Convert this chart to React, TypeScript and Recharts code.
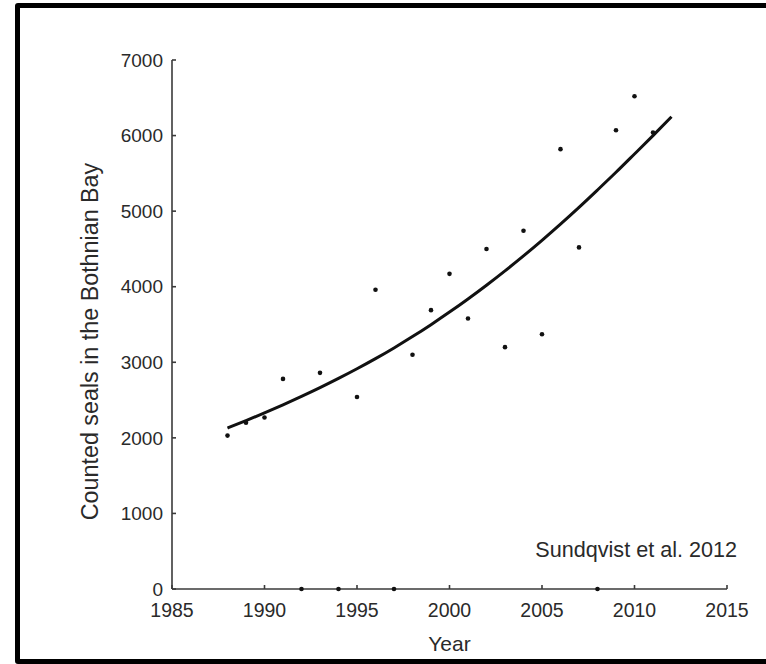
import { ComposedChart, Line, Scatter, XAxis, YAxis, Label } from 'recharts';

const countYears = [
  1988, 1989, 1990, 1991, 1992, 1993, 1994, 1995, 1996, 1997, 1998, 1999,
  2000, 2001, 2002, 2003, 2004, 2005, 2006, 2007, 2008, 2009, 2010, 2011,
];
const counts = [
  2030, 2200, 2270, 2780, 0, 2860, 0, 2540, 3960, 0, 3100, 3690,
  4170, 3580, 4500, 3200, 4740, 3370, 5820, 4520, 0, 6070, 6520, 6040,
];

const fitYears = [
  1988, 1989, 1990, 1991, 1992, 1993, 1994, 1995, 1996, 1997, 1998, 1999, 2000,
  2001, 2002, 2003, 2004, 2005, 2006, 2007, 2008, 2009, 2010, 2011, 2012,
];
const fitValues = [
  2130, 2228, 2330, 2437, 2548, 2664, 2786, 2914, 3048, 3190, 3340, 3498, 3664,
  3838, 4020, 4210, 4408, 4614, 4828, 5050, 5280, 5514, 5756, 6000, 6250,
];

const xTicks = [1985, 1990, 1995, 2000, 2005, 2010, 2015];
const yTicks = [0, 1000, 2000, 3000, 4000, 5000, 6000, 7000];

const points = countYears.map((year, i) => ({ year, count: counts[i] }));
const fit = fitYears.map((year, i) => ({ year, fit: fitValues[i] }));

const font = '"Liberation Sans", Arial, sans-serif';
const axisColor = '#3a3a3a';
const textColor = '#2a2a2a';

const Dot = (props: any) => <circle cx={props.cx} cy={props.cy} r={2.3} fill="#111" />;

export default function App() {
  return (
    <div style={{ position: 'fixed', left: 0, top: 0, width: 766, height: 664, background: '#fff', fontFamily: font }}>
      <div
        style={{
          position: 'fixed',
          left: 15,
          top: 3,
          width: 800,
          height: 661,
          border: '5px solid #000',
          borderRadius: 3,
          boxSizing: 'border-box',
        }}
      />
      <ComposedChart
        width={766}
        height={664}
        data={fit}
        margin={{ top: 60, right: 39, bottom: 35, left: 112 }}
        style={{ position: 'absolute', left: 0, top: 0 }}
      >
        <XAxis
          dataKey="year"
          type="number"
          domain={[1985, 2015]}
          ticks={xTicks}
          height={40}
          stroke={axisColor}
          strokeWidth={1.6}
          tickSize={-4}
          tickMargin={18}
          tick={{ fill: textColor, fontSize: 19.5, fontFamily: font }}
        >
          <Label
            content={({ viewBox }: any) => (
              <text
                x={viewBox.x + viewBox.width / 2}
                y={viewBox.y + 62}
                textAnchor="middle"
                fill={textColor}
                fontSize={21}
                fontFamily={font}
              >
                Year
              </text>
            )}
          />
        </XAxis>
        <YAxis
          type="number"
          domain={[0, 7000]}
          ticks={yTicks}
          width={60}
          stroke={axisColor}
          strokeWidth={1.6}
          tickSize={-4}
          tickMargin={13}
          tick={{ fill: textColor, fontSize: 19, fontFamily: font }}
        >
          <Label
            content={({ viewBox }: any) => {
              const cx = viewBox.x - 22;
              const cy = viewBox.y + viewBox.height / 2 + 17;
              return (
                <text
                  x={cx}
                  y={cy}
                  transform={`rotate(-90 ${cx} ${cy})`}
                  textAnchor="middle"
                  dominantBaseline="central"
                  fill={textColor}
                  fontSize={23.3}
                  fontFamily={font}
                >
                  Counted seals in the Bothnian Bay
                </text>
              );
            }}
          />
        </YAxis>
        <Line
          dataKey="fit"
          type="monotone"
          stroke="#111"
          strokeWidth={3}
          dot={false}
          isAnimationActive={false}
        />
        <Scatter data={points} dataKey="count" shape={Dot} isAnimationActive={false} />
      </ComposedChart>
      <div
        style={{
          position: 'absolute',
          right: 29,
          top: 537,
          fontSize: 21.6,
          color: textColor,
          fontFamily: font,
          whiteSpace: 'nowrap',
        }}
      >
        Sundqvist et al. 2012
      </div>
    </div>
  );
}
